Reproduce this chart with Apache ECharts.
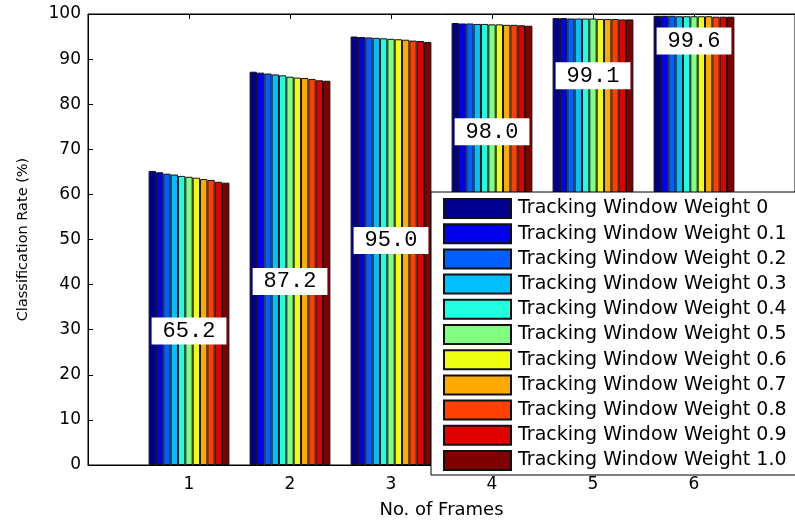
<!DOCTYPE html>
<html>
<head>
<meta charset="utf-8">
<style>
  html, body { margin: 0; padding: 0; background: #fff; }
  #chart { width: 795px; height: 524px; }
</style>
<script src="https://cdn.jsdelivr.net/npm/echarts@6/dist/echarts.min.js"></script>
</head>
<body>
<div id="chart"></div>
<script>
// Axis slots 0..7; frames 1..6 carry the bar groups
const frameSlots = ['', '1', '2', '3', '4', '5', '6', ''];

const weightNames = [
  'Tracking Window Weight 0', 'Tracking Window Weight 0.1', 'Tracking Window Weight 0.2',
  'Tracking Window Weight 0.3', 'Tracking Window Weight 0.4', 'Tracking Window Weight 0.5',
  'Tracking Window Weight 0.6', 'Tracking Window Weight 0.7', 'Tracking Window Weight 0.8',
  'Tracking Window Weight 0.9', 'Tracking Window Weight 1.0'
];

// Classification rate (%) for each weight, one array per frame count
const frame1Rates = [65.2, 64.9, 64.6, 64.4, 64.1, 63.9, 63.7, 63.4, 63.2, 62.8, 62.6];
const frame2Rates = [87.2, 87.0, 86.8, 86.6, 86.4, 86.1, 85.9, 85.8, 85.6, 85.3, 85.2];
const frame3Rates = [95.0, 94.9, 94.8, 94.7, 94.6, 94.5, 94.4, 94.3, 94.1, 94.0, 93.8];
const frame4Rates = [98.0, 97.9, 97.9, 97.8, 97.8, 97.7, 97.7, 97.6, 97.6, 97.5, 97.4];
const frame5Rates = [99.1, 99.1, 99.0, 99.0, 99.0, 99.0, 98.9, 98.9, 98.9, 98.8, 98.8];
const frame6Rates = [99.6, 99.6, 99.6, 99.5, 99.5, 99.5, 99.5, 99.5, 99.4, 99.4, 99.4];

// Height (in %) at which each frame's annotation box sits
const annotationY = [29.7, 40.7, 49.8, 73.9, 86.3, 94.0];

const yTicks = { min: 0, max: 100, step: 10 };

const jetColors = [
  '#00008f', '#0000ee', '#0060ff', '#00c0ff', '#20ffe0', '#80ff80',
  '#efff10', '#ffaa00', '#ff4000', '#e00000', '#800000'
];

const frameRates = [frame1Rates, frame2Rates, frame3Rates, frame4Rates, frame5Rates, frame6Rates];

const barSeries = weightNames.map((name, w) => ({
  name: name,
  type: 'bar',
  barGap: '0%',
  barCategoryGap: '20%',
  itemStyle: { color: jetColors[w], borderColor: '#111', borderWidth: 1 },
  emphasis: { disabled: true },
  data: [null].concat(frameRates.map(r => r[w])).concat([null])
}));

// White boxes stating the weight-0 rate of each frame group
const annotationSeries = {
  type: 'scatter',
  symbolSize: 1,
  itemStyle: { color: 'rgba(0,0,0,0)', opacity: 1 },
  silent: true,
  z: 10,
  label: {
    show: true,
    position: 'inside',
    formatter: p => frameRates[p.dataIndex][0].toFixed(1),
    backgroundColor: '#fff',
    padding: [4, 11, 3, 11],
    lineHeight: 20,
    fontFamily: '"Liberation Mono", "DejaVu Sans Mono", monospace',
    fontSize: 22,
    color: '#000',
    opacity: 1
  },
  data: annotationY.map((y, i) => [i + 1, y])
};

const font = '"DejaVu Sans", "Liberation Sans", Arial, sans-serif';
const shownTick = (i) => i > 0 && i < frameSlots.length - 1;

const chart = echarts.init(document.getElementById('chart'), null, { renderer: 'canvas' });
chart.setOption({
  animation: false,
  backgroundColor: '#fff',
  grid: { left: 88, top: 14, width: 721, height: 460, show: true, borderColor: '#000', borderWidth: 1, backgroundColor: 'transparent' },
  legend: {
    data: weightNames,
    orient: 'vertical',
    left: 431,
    top: 192,
    width: 400,
    backgroundColor: '#fff',
    borderColor: '#000',
    borderWidth: 1,
    padding: [6, 40, 4, 12],
    itemWidth: 67,
    itemHeight: 19,
    itemGap: 4.2,
    icon: 'rect',
    selectedMode: false,
    textStyle: { fontFamily: font, fontSize: 19, lineHeight: 19, color: '#000', padding: [0, 0, 0, 2] }
  },
  xAxis: [
    {
      type: 'category',
      data: frameSlots,
      boundaryGap: false,
      position: 'bottom',
      name: 'No. of Frames',
      nameLocation: 'middle',
      nameGap: 36,
      nameTextStyle: { fontFamily: font, fontSize: 18, color: '#000' },
      axisLine: { lineStyle: { color: '#000', width: 1 } },
      axisTick: { inside: true, length: 5, interval: shownTick, lineStyle: { color: '#000' } },
      axisLabel: { fontFamily: font, fontSize: 17, color: '#000', margin: 11, interval: shownTick },
      splitLine: { show: false }
    },
    {
      type: 'category',
      data: frameSlots,
      boundaryGap: false,
      position: 'top',
      axisLine: { lineStyle: { color: '#000', width: 1 } },
      axisTick: { inside: true, length: 5, interval: shownTick, lineStyle: { color: '#000' } },
      axisLabel: { show: false },
      splitLine: { show: false }
    }
  ],
  yAxis: {
    type: 'value',
    min: yTicks.min,
    max: yTicks.max,
    interval: yTicks.step,
    name: 'Classification Rate (%)',
    nameLocation: 'middle',
    nameGap: 57,
    nameTextStyle: { fontFamily: font, fontSize: 14.5, color: '#000' },
    axisLine: { show: true, lineStyle: { color: '#000', width: 1 } },
    axisTick: { show: true, inside: true, length: 5, lineStyle: { color: '#000' } },
    axisLabel: { fontFamily: font, fontSize: 17, color: '#000', margin: 7 },
    splitLine: { show: false }
  },
  series: barSeries.concat([annotationSeries])
});
</script>
</body>
</html>
